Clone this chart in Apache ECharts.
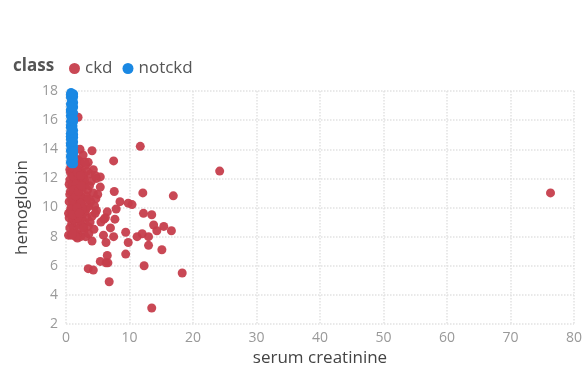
<!DOCTYPE html>
<html>
<head>
<meta charset="utf-8">
<script src="https://cdn.jsdelivr.net/npm/echarts@6/dist/echarts.min.js"></script>
<style>
  html, body { margin: 0; padding: 0; background: #fff; }
  #chart { width: 586px; height: 367px; }
</style>
</head>
<body>
<div id="chart"></div>
<script>
// class labels
const classNames = ['ckd', 'notckd'];
const xTicks = [0, 10, 20, 30, 40, 50, 60, 70, 80];
const yTicks = [2, 4, 6, 8, 10, 12, 14, 16, 18];

// ckd: [serum creatinine, hemoglobin]
const ckdPoints = [
  [11.7, 14.2], [24.2, 12.5], [16.9, 10.8], [12.1, 11.0], [7.5, 13.2], [4.1, 13.9],
  [13.5, 3.1], [18.3, 5.5], [6.8, 4.9], [12.3, 6.0], [3.5, 5.8], [4.3, 5.7],
  [5.4, 6.3], [6.3, 6.2], [6.6, 6.2], [6.5, 6.7], [9.4, 6.8], [15.1, 7.1],
  [13.0, 7.4], [11.2, 8.0], [12.0, 8.2], [13.0, 8.0], [16.6, 8.4], [15.4, 8.7],
  [14.3, 8.4], [13.8, 8.8], [13.5, 9.5], [12.2, 9.6], [9.4, 8.3], [9.8, 7.6],
  [7.5, 8.0], [5.9, 8.1], [6.3, 7.6], [4.1, 7.7], [7.0, 8.6], [7.7, 9.2],
  [6.2, 9.3], [6.5, 9.7], [8.5, 10.4], [9.8, 10.3], [10.4, 10.2], [7.6, 11.1],
  [7.9, 9.9], [4.8, 12.0], [5.4, 12.1], [5.4, 11.4], [4.3, 12.6], [3.5, 13.1],
  [4.7, 10.6], [4.6, 9.6], [76.3, 11.0], [1.9, 16.2], [2.2, 14.0], [5.5, 9.0],
  [6.0, 9.2],
  [0.8, 12.9], [1.2, 12.7], [1.6, 12.8], [2.0, 12.6], [2.5, 12.4], [1.0, 12.3],
  [1.5, 12.2], [2.8, 12.1], [0.6, 11.9], [1.3, 11.8], [2.2, 11.7], [3.0, 11.6],
  [0.9, 11.5], [1.8, 11.4], [2.6, 11.3], [3.4, 11.2], [0.7, 11.1], [1.4, 11.0],
  [2.1, 10.9], [3.2, 10.8], [1.1, 10.7], [1.9, 10.6], [2.7, 10.5], [0.5, 10.4],
  [1.6, 10.3], [2.4, 10.2], [3.6, 10.1], [0.8, 10.0], [1.3, 9.9], [2.0, 9.8],
  [3.0, 9.7], [0.4, 9.6], [1.7, 9.5], [2.5, 9.4], [3.3, 9.3], [1.0, 9.2],
  [2.2, 9.1], [2.9, 9.0], [1.5, 8.9], [2.4, 8.8], [3.5, 8.7], [1.2, 8.6],
  [2.0, 8.5], [2.8, 8.3], [1.6, 8.2], [0.8, 8.1], [2.3, 8.0], [3.1, 8.0],
  [1.8, 7.9], [1.3, 12.5], [2.4, 13.0], [3.1, 12.9], [3.8, 12.3], [1.7, 13.3],
  [2.7, 13.6], [4.0, 11.8], [3.7, 11.5], [4.3, 11.0], [3.9, 10.4], [4.5, 10.1],
  [3.2, 9.9], [4.1, 9.4], [0.6, 10.9], [1.1, 11.4], [2.9, 11.9], [1.4, 9.7],
  [2.6, 9.9], [3.8, 9.0], [4.4, 8.5], [1.9, 9.3], [0.9, 8.9], [2.5, 10.7],
  [3.3, 12.5], [0.7, 12.4], [2.1, 13.2], [1.4, 13.4], [1.9, 12.0], [0.5, 9.3],
  [2.8, 8.6], [3.6, 8.2], [4.8, 9.8], [5.0, 10.9], [1.5, 8.0], [0.4, 8.1],
  [3.0, 13.1], [4.6, 12.2], [2.3, 10.3], [1.2, 10.1], [3.5, 10.6],
  [0.6, 12.6], [1.1, 12.1], [0.9, 12.8], [0.5, 11.6], [1.6, 11.6], [1.2, 11.2],
  [0.9, 10.5], [1.5, 10.8], [0.7, 9.8], [1.1, 9.5], [0.6, 8.6], [1.0, 8.2],
  [1.8, 12.4], [2.3, 12.2], [2.0, 11.1], [2.4, 11.5], [1.7, 10.0], [2.1, 9.6]
];

// notckd: [serum creatinine, hemoglobin]
const notckdPoints = [
  [0.7, 17.8], [1.0, 17.7], [1.2, 17.6], [0.8, 17.5], [1.1, 17.4], [0.9, 17.3],
  [1.2, 17.2], [0.7, 17.1], [1.0, 17.0], [1.2, 16.9], [0.9, 16.8], [0.7, 16.7],
  [1.0, 16.6], [0.8, 16.5], [1.1, 16.4], [0.7, 16.3], [0.9, 16.2], [1.2, 16.1],
  [0.9, 16.0], [0.7, 15.9], [1.0, 15.8], [0.8, 15.7], [1.1, 15.6], [0.7, 15.5],
  [0.9, 15.4], [1.2, 15.3], [0.9, 15.2], [0.7, 15.1], [1.0, 15.0], [0.8, 14.9],
  [1.1, 14.8], [0.7, 14.7], [0.9, 14.6], [1.2, 14.5], [0.9, 14.4], [0.7, 14.3],
  [1.0, 14.2], [0.8, 14.1], [1.1, 14.0], [0.7, 13.9], [0.9, 13.8], [1.2, 13.7],
  [0.9, 13.6], [0.7, 13.5], [1.0, 13.4], [0.8, 13.3], [1.1, 13.2], [0.7, 13.1],
  [0.9, 13.0], [1.2, 13.0], [0.7, 17.6], [1.0, 17.0], [0.8, 16.2], [1.1, 15.1],
  [0.7, 14.4], [0.9, 13.8], [1.2, 13.3], [0.7, 15.6], [1.0, 16.4], [0.8, 14.7],
  [1.2, 15.9], [1.2, 14.2], [0.7, 16.6], [0.7, 14.9], [0.9, 17.8], [1.1, 13.5],
  [1.2, 17.8], [1.1, 16.8], [1.2, 16.5], [1.2, 15.0], [1.2, 14.8], [1.2, 13.9],
  [0.8, 17.9], [0.8, 16.9], [0.8, 15.3], [0.8, 13.6], [1.0, 14.5], [1.0, 16.1]
];

const chart = echarts.init(document.getElementById('chart'));
const font = "'Open Sans', sans-serif";
const gridLine = { show: true, lineStyle: { color: '#e2e2e2', type: 'dotted', width: 1.5 } };

chart.setOption({
  animation: false,
  textStyle: { fontFamily: font },
  title: {
    text: 'class',
    left: 8,
    top: 53,
    textStyle: { fontSize: 17, fontWeight: 'bold', color: '#555', fontFamily: font }
  },
  legend: {
    data: classNames,
    left: 64,
    top: 55,
    icon: 'circle',
    itemWidth: 11,
    itemHeight: 11,
    itemGap: 10,
    textStyle: { fontSize: 17, color: '#555', fontFamily: font }
  },
  grid: { left: 66, right: 12, top: 91, bottom: 43, outerBoundsMode: 'none', containLabel: false },
  xAxis: {
    type: 'value',
    min: xTicks[0],
    max: xTicks[xTicks.length - 1],
    interval: 10,
    name: 'serum creatinine',
    nameLocation: 'middle',
    nameGap: 24,
    nameTextStyle: { fontSize: 17, color: '#444', fontFamily: font },
    axisLine: { show: false },
    axisTick: { show: false },
    axisLabel: { color: '#999', fontSize: 14, margin: 7 },
    splitLine: gridLine
  },
  yAxis: {
    type: 'value',
    min: yTicks[0],
    max: yTicks[yTicks.length - 1],
    interval: 2,
    name: 'hemoglobin',
    nameLocation: 'middle',
    nameGap: 30,
    nameTextStyle: { fontSize: 17, color: '#444', fontFamily: font },
    axisLine: { show: false },
    axisTick: { show: false },
    axisLabel: { color: '#999', fontSize: 14, margin: 8 },
    splitLine: gridLine
  },
  series: [
    {
      name: classNames[0],
      type: 'scatter',
      symbolSize: 9,
      itemStyle: { color: '#c63e4c', opacity: 0.95 },
      data: ckdPoints
    },
    {
      name: classNames[1],
      type: 'scatter',
      symbolSize: 9,
      itemStyle: { color: '#1a88e3', opacity: 1 },
      data: notckdPoints
    }
  ]
});
</script>
</body>
</html>
